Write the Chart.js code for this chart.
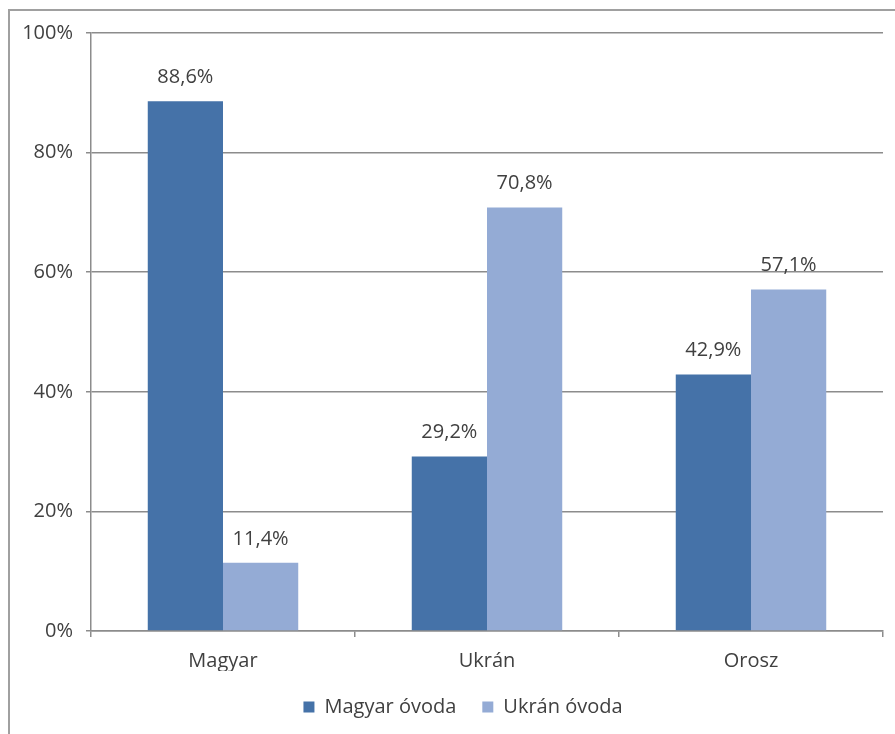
<!DOCTYPE html>
<html>
<head>
<meta charset="utf-8">
<script src="https://cdn.jsdelivr.net/npm/chart.js@4/dist/chart.umd.min.js"></script>
<style>
	html, body { margin: 0; padding: 0; background: #fff; }
	#wrap { width: 895px; height: 734px; }
</style>
</head>
<body>
<div id="wrap"><canvas id="myBarChart" width="895" height="734"></canvas></div>
<script>
const	categories	= [ 'Magyar', 'Ukrán', 'Orosz' ];
const	magyarOvoda	= [ 88.6, 29.2, 42.9 ];
const	ukranOvoda	= [ 11.4, 70.8, 57.1 ];
const	yTicks		= [ 0, 20, 40, 60, 80, 100 ];

const	TEXT_COLOR	= '#404040';
const	FONT_FAMILY	= '"Open Sans", "DejaVu Sans", sans-serif';
const	FONT_SIZE	= 20;

/******** frame + white background ********/
const frame = {
	id: 'frame',
	beforeDraw: function ( chart ) {
		let ctx = chart.ctx;
		ctx.save();
		ctx.fillStyle = '#fff';
		ctx.fillRect( 0, 0, chart.width, chart.height );
		ctx.strokeStyle = '#a0a0a0';
		ctx.lineWidth = 2;
		ctx.strokeRect( 9, 10, chart.width + 20, chart.height + 20 );
		ctx.restore();
	}
};

/******** legend sits centred under the plot, not the canvas ********/
const legendShift = {
	id: 'legendShift',
	afterLayout: function ( chart ) {
		let lg = chart.legend;
		let dx = ( chart.chartArea.left + chart.chartArea.right ) / 2 - ( lg.left + lg.right ) / 2 - 24;
		lg.left	+= dx;
		lg.right	+= dx;
	}
};

/******** values above the bars ********/
const valueLabels = {
	id: 'valueLabels',
	afterDatasetsDraw: function ( chart ) {
		let ctx = chart.ctx;
		ctx.save();
		ctx.font = FONT_SIZE + 'px ' + FONT_FAMILY;
		ctx.fillStyle = TEXT_COLOR;
		ctx.textAlign = 'center';
		ctx.textBaseline = 'middle';
		chart.data.datasets.forEach( ( ds, i ) => {
			chart.getDatasetMeta( i ).data.forEach( ( bar, j ) => {
				let txt = ds.data[ j ].toFixed( 1 ).replace( '.', ',' ) + '%';
				ctx.fillText( txt, bar.x, bar.y - 24 );
			});
		});
		ctx.restore();
	}
};

new Chart( document.getElementById( 'myBarChart' ), {
	type: 'bar',
	data: {
		labels: categories,
		datasets: [
			{
				label: 'Magyar óvoda',
				data: magyarOvoda,
				backgroundColor: '#4572a8',
				categoryPercentage: 0.57,
				barPercentage: 1.0,
			},
			{
				label: 'Ukrán óvoda',
				data: ukranOvoda,
				backgroundColor: '#94abd5',
				categoryPercentage: 0.57,
				barPercentage: 1.0,
			},
		],
	},
	options: {
		responsive: false,
		animation: false,
		layout: {
			padding: { left: 0, right: 12, top: 33, bottom: 7 }
		},
		plugins: {
			tooltip: { enabled: false },
			legend: {
				position: 'bottom',
				labels: {
					boxWidth: 11,
					boxHeight: 11,
					padding: 26,
					color: TEXT_COLOR,
					font: { size: FONT_SIZE, family: FONT_FAMILY },
				},
			},
		},
		scales: {
			x: {
				offset: true,
				grid: {
					offset: true,
					drawOnChartArea: false,
					drawTicks: true,
					tickLength: 6,
					color: '#8c8c8c',
					lineWidth: 1.5,
				},
				border: { color: '#8c8c8c', width: 1.5 },
				ticks: {
					color: TEXT_COLOR,
					padding: 12,
					font: { size: FONT_SIZE, family: FONT_FAMILY },
				},
				afterFit: function ( axis ) { axis.height = 40; },
			},
			y: {
				min: 0,
				max: 100,
				afterBuildTicks: function ( axis ) {
					axis.ticks = yTicks.map( v => ({ value: v }) );
				},
				grid: {
					color: '#8c8c8c',
					lineWidth: 1.5,
					tickLength: 5,
				},
				border: { color: '#8c8c8c', width: 1.5 },
				ticks: {
					color: TEXT_COLOR,
					padding: 13,
					font: { size: FONT_SIZE, family: FONT_FAMILY },
					callback: v => v + '%',
				},
				afterFit: function ( axis ) { axis.width = 91; },
			},
		},
	},
	plugins: [ frame, legendShift, valueLabels ],
});
</script>
</body>
</html>
